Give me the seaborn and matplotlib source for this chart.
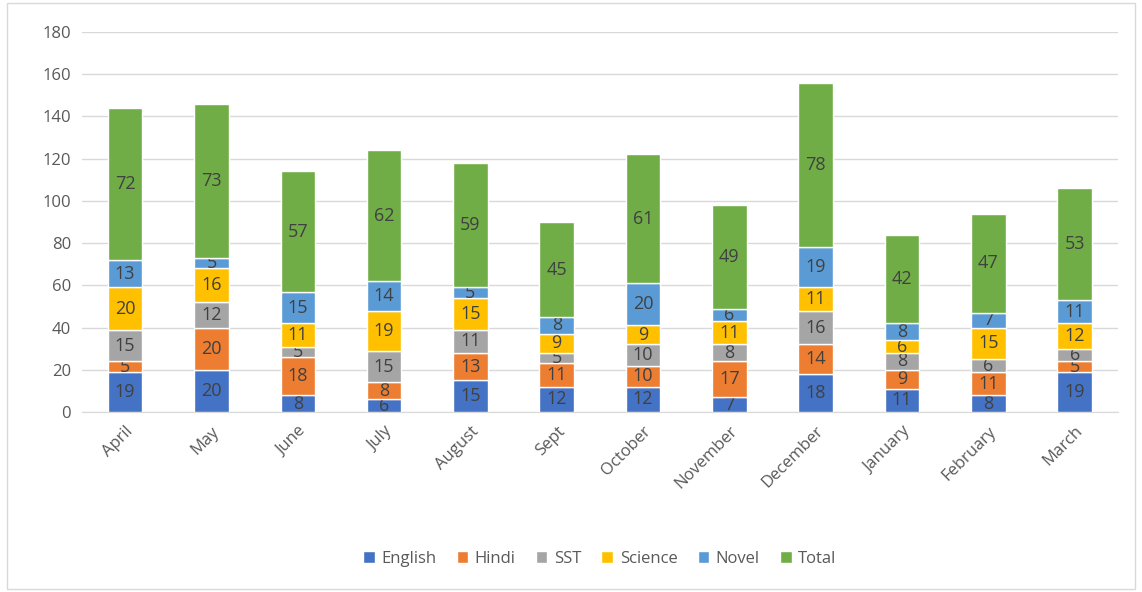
import matplotlib
matplotlib.use("Agg")
import matplotlib.pyplot as plt
import seaborn as sns
import numpy as np
from matplotlib.patches import Rectangle

months = ["April", "May", "June", "July", "August", "Sept", "October",
          "November", "December", "January", "February", "March"]
english = [19, 20, 8, 6, 15, 12, 12, 7, 18, 11, 8, 19]
hindi = [5, 20, 18, 8, 13, 11, 10, 17, 14, 9, 11, 5]
sst = [15, 12, 5, 15, 11, 5, 10, 8, 16, 8, 6, 6]
science = [20, 16, 11, 19, 15, 9, 9, 11, 11, 6, 15, 12]
novel = [13, 5, 15, 14, 5, 8, 20, 6, 19, 8, 7, 11]
total = [72, 73, 57, 62, 59, 45, 61, 49, 78, 42, 47, 53]

series = [("English", english, "#4472C4"),
          ("Hindi", hindi, "#ED7D31"),
          ("SST", sst, "#A5A5A5"),
          ("Science", science, "#FFC000"),
          ("Novel", novel, "#5B9BD5"),
          ("Total", total, "#70AD47")]

sns.set_style("white")
plt.rcParams['font.family'] = ['Open Sans', 'DejaVu Sans']

fig = plt.figure(figsize=(11.42, 5.92), dpi=100)
ax = fig.add_axes([0.0718, 0.304, 0.907, 0.642])

bottom = np.zeros(len(months))
for name, vals, col in series:
    sns.barplot(x=months, y=vals, bottom=bottom, color=col, saturation=1,
                width=0.4, label=name, ax=ax, zorder=3)
    cont = ax.containers[-1]
    ax.bar_label(cont, labels=[str(v) for v in vals], label_type="center",
                 fontsize=13, color="#404040")
    bottom = bottom + np.array(vals)

ax.set_ylim(0, 180)
ax.set_xlim(-0.5, len(months) - 0.5)
ax.set_yticks(range(0, 181, 20))
ax.grid(axis="y", color="#D9D9D9", linewidth=1, zorder=0)
for s in ["top", "right", "left"]:
    ax.spines[s].set_visible(False)
ax.spines["bottom"].set_color("#D9D9D9")
ax.tick_params(axis="both", length=0, labelsize=12, labelcolor="#595959", pad=8)
plt.setp(ax.get_xticklabels(), rotation=45, ha="right", rotation_mode="anchor")
ax.set_xlabel("")
ax.set_ylabel("")

ax.legend(loc="upper center", bbox_to_anchor=(0.5, -0.325), ncol=6,
          frameon=False, fontsize=12, handlelength=0.7, handleheight=0.7,
          handletextpad=0.4, columnspacing=1.2, labelcolor="#595959")

fig.patches.append(Rectangle((0.006, 0.005), 0.988, 0.99, transform=fig.transFigure,
                             fill=False, edgecolor="#D9D9D9", linewidth=1))

fig.savefig("out.png", dpi=100)
